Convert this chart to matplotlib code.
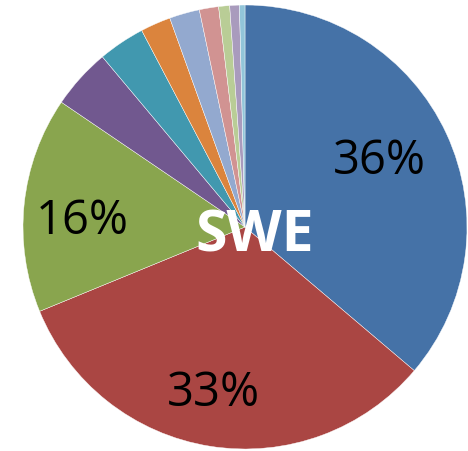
import matplotlib
matplotlib.use("Agg")
import matplotlib.pyplot as plt
import numpy as np

# slice shares (percent), clockwise from 12 o'clock
shares = [36.2, 32.6, 15.7, 4.4, 3.4, 2.2, 2.2, 1.4, 0.8, 0.7, 0.4]
colors = ['#4572A7', '#AA4643', '#89A54E', '#71588F', '#4198AF', '#DB843D',
          '#93A9CF', '#D19392', '#B9CD96', '#A99BBD', '#92C5D9']
center_label = 'SWE'

# label placement tweaks for the three labelled slices (radius, degrees)
label_dist = [0.68, 0.75, 0.735]
label_turn = [2.5, -1.8, 2.7]

fig = plt.figure(figsize=(4.68, 4.51), dpi=100)
ax = fig.add_axes([23 / 468, 2 / 451, 444 / 468, 444 / 451])

wedges, texts, autotexts = ax.pie(
    shares, colors=colors, startangle=90, counterclock=False,
    autopct=lambda p: f'{p:.0f}%' if p > 10 else '',
    pctdistance=0.74, radius=1.0,
    wedgeprops=dict(edgecolor='white', linewidth=0.3),
    textprops=dict(fontsize=34, family='Open Sans', color='black'))

# excel "best fit" label spots (open sans sits a bit high, nudge down)
for i in range(len(label_dist)):
    w = wedges[i]
    mid = np.deg2rad((w.theta1 + w.theta2) / 2 + label_turn[i])
    autotexts[i].set_position((label_dist[i] * np.cos(mid),
                               label_dist[i] * np.sin(mid) - 0.014))

ax.text(0.045, -0.045, center_label, ha='center', va='center', color='white',
        fontsize=41, fontweight='bold', family='Open Sans')

ax.set_xlim(-1, 1)
ax.set_ylim(-1, 1)
ax.set_aspect('equal')
ax.axis('off')

fig.savefig('out.png', dpi=100)
